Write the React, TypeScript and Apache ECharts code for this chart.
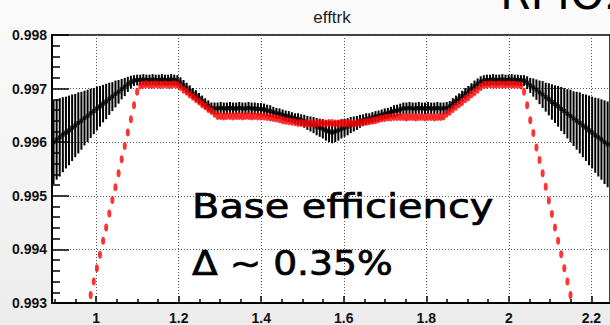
import React, { useEffect, useRef } from 'react';
import * as echarts from 'echarts';

// Bin layout of the histogram (x axis: first bin edge, bin width)
const X_START = 0.893;
const BIN_WIDTH = 0.0075;

// Axis tick values
const xTickValues = [1, 1.2, 1.4, 1.6, 1.8, 2, 2.2];
const yTickValues = [0.993, 0.994, 0.995, 0.996, 0.997, 0.998];

// Black series: bin contents
const blackValues = [
  0.99600, 0.99605, 0.99609, 0.99614, 0.99618, 0.99622, 0.99627, 0.99631, 0.99636, 0.99640,
  0.99645, 0.99649, 0.99654, 0.99658, 0.99663, 0.99667, 0.99672, 0.99676, 0.99681, 0.99685,
  0.99690, 0.99694, 0.99699, 0.99703, 0.99708, 0.99712,
  0.99715, 0.99716, 0.99716, 0.99717, 0.99716, 0.99716, 0.99717, 0.99716, 0.99716, 0.99717,
  0.99716, 0.99716, 0.99717, 0.99716, 0.99715,
  0.99711, 0.99706, 0.99701, 0.99696, 0.99691, 0.99687, 0.99682, 0.99677, 0.99672, 0.99668, 0.99664,
  0.99663, 0.99663, 0.99664, 0.99663, 0.99663, 0.99664, 0.99663, 0.99663, 0.99664, 0.99663,
  0.99663, 0.99664, 0.99663, 0.99663, 0.99662, 0.99662,
  0.99661, 0.99659, 0.99658, 0.99656, 0.99654, 0.99653, 0.99651, 0.99649, 0.99648, 0.99646,
  0.99644, 0.99643, 0.99641, 0.99639, 0.99636, 0.99634, 0.99632, 0.99629, 0.99627, 0.99625,
  0.99622, 0.99620, 0.99618,
  0.99620, 0.99622, 0.99625, 0.99627, 0.99629, 0.99632, 0.99634, 0.99636, 0.99639, 0.99641,
  0.99643, 0.99644, 0.99646, 0.99648, 0.99649, 0.99651, 0.99653, 0.99654, 0.99656, 0.99658,
  0.99659, 0.99661,
  0.99663, 0.99663, 0.99664, 0.99663, 0.99663, 0.99664, 0.99663, 0.99663, 0.99664, 0.99663,
  0.99663, 0.99664, 0.99663, 0.99663, 0.99664,
  0.99667, 0.99672, 0.99677, 0.99681, 0.99686, 0.99691, 0.99695, 0.99700, 0.99705, 0.99709, 0.99713,
  0.99715, 0.99716, 0.99716, 0.99717, 0.99716, 0.99716, 0.99717, 0.99716, 0.99716, 0.99717,
  0.99716, 0.99716, 0.99715, 0.99715,
  0.99711, 0.99706, 0.99702, 0.99698, 0.99693, 0.99689, 0.99684, 0.99680, 0.99675, 0.99671,
  0.99667, 0.99662, 0.99658, 0.99653, 0.99649, 0.99644, 0.99640, 0.99636, 0.99631, 0.99627,
  0.99622, 0.99618, 0.99613, 0.99609, 0.99605, 0.99600, 0.99596,
];

// Black series: bin errors
const blackErrors = [
  0.00078, 0.00075, 0.00073, 0.00070, 0.00067, 0.00065, 0.00062, 0.00059, 0.00057, 0.00054,
  0.00051, 0.00049, 0.00046, 0.00043, 0.00041, 0.00038, 0.00035, 0.00033, 0.00030, 0.00027,
  0.00025, 0.00022, 0.00019, 0.00017, 0.00014, 0.00012,
  0.00010, 0.00010, 0.00010, 0.00010, 0.00010, 0.00010, 0.00010, 0.00010, 0.00010, 0.00010,
  0.00010, 0.00010, 0.00010, 0.00010, 0.00010,
  0.00010, 0.00010, 0.00010, 0.00010, 0.00010, 0.00010, 0.00010, 0.00010, 0.00010, 0.00010, 0.00010,
  0.00011, 0.00011, 0.00011, 0.00011, 0.00011, 0.00011, 0.00011, 0.00011, 0.00011, 0.00011,
  0.00011, 0.00011, 0.00011, 0.00011, 0.00011, 0.00011,
  0.00011, 0.00011, 0.00011, 0.00010, 0.00010, 0.00010, 0.00010, 0.00010, 0.00010, 0.00010,
  0.00010, 0.00011, 0.00011, 0.00012, 0.00013, 0.00014, 0.00015, 0.00016, 0.00017, 0.00018,
  0.00019, 0.00020, 0.00020,
  0.00020, 0.00019, 0.00018, 0.00017, 0.00016, 0.00015, 0.00014, 0.00013, 0.00012, 0.00011,
  0.00011, 0.00010, 0.00010, 0.00010, 0.00010, 0.00010, 0.00010, 0.00010, 0.00010, 0.00011,
  0.00011, 0.00011,
  0.00011, 0.00011, 0.00011, 0.00011, 0.00011, 0.00011, 0.00011, 0.00011, 0.00011, 0.00011,
  0.00011, 0.00011, 0.00011, 0.00011, 0.00011,
  0.00010, 0.00010, 0.00010, 0.00010, 0.00010, 0.00010, 0.00010, 0.00010, 0.00010, 0.00010, 0.00010,
  0.00010, 0.00010, 0.00010, 0.00010, 0.00010, 0.00010, 0.00010, 0.00010, 0.00010, 0.00010,
  0.00010, 0.00010, 0.00010, 0.00010,
  0.00012, 0.00014, 0.00017, 0.00019, 0.00022, 0.00025, 0.00027, 0.00030, 0.00033, 0.00035,
  0.00038, 0.00041, 0.00043, 0.00046, 0.00049, 0.00051, 0.00054, 0.00057, 0.00059, 0.00062,
  0.00065, 0.00067, 0.00070, 0.00073, 0.00075, 0.00078, 0.00080,
];

// Red series: bin contents (null = below the visible range)
const redValues = [
  null, null, null, null, null, null, null, null, null, null, null, null,
  0.99315, 0.99340, 0.99365, 0.99390, 0.99416, 0.99441, 0.99467, 0.99492, 0.99516, 0.99542,
  0.99568, 0.99593, 0.99618, 0.99643, 0.99669, 0.99694,
  0.99706, 0.99707, 0.99708, 0.99707, 0.99707, 0.99708, 0.99707, 0.99707, 0.99708, 0.99707,
  0.99707, 0.99708, 0.99707,
  0.99703, 0.99698, 0.99694, 0.99689, 0.99685, 0.99680, 0.99676, 0.99671, 0.99667, 0.99662,
  0.99658, 0.99653, 0.99649,
  0.99649, 0.99648, 0.99649, 0.99649, 0.99648, 0.99649, 0.99649, 0.99648, 0.99649, 0.99649,
  0.99648, 0.99649, 0.99648, 0.99648,
  0.99648, 0.99647, 0.99646, 0.99645, 0.99644, 0.99643, 0.99641, 0.99640, 0.99639, 0.99638,
  0.99637, 0.99636,
  0.99636, 0.99635, 0.99635, 0.99636, 0.99635, 0.99635, 0.99636, 0.99635, 0.99635, 0.99636,
  0.99636, 0.99635, 0.99635, 0.99636, 0.99635, 0.99635, 0.99636, 0.99635, 0.99635, 0.99636,
  0.99637, 0.99638, 0.99639, 0.99640, 0.99641, 0.99643, 0.99644, 0.99645, 0.99646, 0.99646,
  0.99647, 0.99647,
  0.99647, 0.99647, 0.99646, 0.99647, 0.99647, 0.99646, 0.99647, 0.99647, 0.99646, 0.99647,
  0.99647, 0.99646, 0.99647, 0.99647,
  0.99648, 0.99653, 0.99657, 0.99662, 0.99666, 0.99671, 0.99675, 0.99680, 0.99684, 0.99689,
  0.99693, 0.99698, 0.99703,
  0.99707, 0.99707, 0.99708, 0.99707, 0.99707, 0.99708, 0.99707, 0.99707, 0.99708, 0.99707,
  0.99707, 0.99707, 0.99706,
  0.99694,
  0.99669, 0.99641, 0.99617, 0.99590, 0.99567, 0.99542, 0.99517, 0.99491, 0.99466, 0.99441,
  0.99416, 0.99391, 0.99365, 0.99340, 0.99315,
  null, null, null, null, null, null, null, null, null, null, null, null,
];

const binCenter = (i: number) => X_START + BIN_WIDTH * (i + 0.5);

export default function App() {
  const ref = useRef<HTMLDivElement>(null);

  useEffect(() => {
    if (!ref.current) return;
    const chart = echarts.init(ref.current, undefined, { renderer: 'svg' });

    const blackErrData = blackValues.map((v, i) => [binCenter(i), v, blackErrors[i]]);
    const blackPts = blackValues.map((v, i) => [binCenter(i), v]);
    const redPts = redValues
      .map((v, i) => (v == null ? null : [binCenter(i), v]))
      .filter((p) => p != null);

    const tickLine = { color: '#000', width: 1.5 };
    const labelFont = {
      fontFamily: 'Liberation Sans, Arial, sans-serif',
      fontWeight: 'bold' as const,
      fontSize: 14,
      color: '#111',
    };
    const gridLine = { show: true, lineStyle: { type: [1, 2], color: '#555', width: 1 } };

    chart.setOption({
      animation: false,
      grid: {
        left: 52,
        top: 35,
        bottom: 22,
        right: -1,
        show: true,
        backgroundColor: '#ffffff',
        borderColor: '#000',
        borderWidth: 1.5,
      },
      xAxis: {
        type: 'value',
        min: 0.893,
        max: 2.245,
        splitNumber: 7,
        axisLine: { lineStyle: { color: '#000', width: 2 } },
        axisTick: { inside: true, length: 7, lineStyle: tickLine, customValues: xTickValues },
        minorTick: { show: true, splitNumber: 4, length: 4, lineStyle: tickLine },
        axisLabel: {
          ...labelFont,
          margin: 8,
          customValues: xTickValues,
          formatter: (v: number) =>
            xTickValues.some((t) => Math.abs(t - v) < 1e-6) ? String(Math.round(v * 10) / 10) : '',
        },
        splitLine: gridLine,
      },
      yAxis: {
        type: 'value',
        min: 0.993,
        max: 0.998,
        interval: 0.001,
        axisLine: { show: true, lineStyle: { color: '#000', width: 2 } },
        axisTick: { inside: true, length: 17, lineStyle: tickLine },
        minorTick: { show: true, splitNumber: 5, length: 8, lineStyle: tickLine },
        axisLabel: {
          ...labelFont,
          margin: 5,
          formatter: (v: number) => {
            const t = yTickValues.find((y) => Math.abs(y - v) < 1e-7);
            return t != null ? t.toFixed(3) : '';
          },
        },
        splitLine: gridLine,
      },
      series: [
        {
          type: 'custom',
          name: 'black errors',
          clip: true,
          data: blackErrData,
          encode: { x: 0, y: 1 },
          renderItem: (params: any, api: any) => {
            const x = api.value(0);
            const y = api.value(1);
            const e = api.value(2);
            const top = api.coord([x, y + e]);
            const bot = api.coord([x, y - e]);
            return {
              type: 'line',
              shape: { x1: top[0], y1: top[1], x2: bot[0], y2: bot[1] },
              style: { stroke: '#000', lineWidth: 2 },
            };
          },
          z: 2,
        },
        {
          type: 'scatter',
          name: 'black',
          data: blackPts,
          symbol: 'rect',
          symbolSize: [4, 4],
          itemStyle: { color: '#000' },
          clip: true,
          z: 3,
        },
        {
          type: 'scatter',
          name: 'red',
          data: redPts,
          symbol: 'path://M1,0A1,1,0,1,1,-1,0A1,1,0,1,1,1,0Z',
          symbolSize: [4, 8],
          itemStyle: { color: '#ff0000' },
          clip: true,
          z: 4,
        },
      ],
      graphic: [
        {
          type: 'text',
          x: 332,
          y: 17.5,
          z: 100,
          style: {
            text: 'efftrk',
            fontFamily: 'Liberation Sans, Arial, sans-serif',
            fontSize: 17,
            fill: '#222',
            align: 'center',
            verticalAlign: 'middle',
          },
        },
        {
          type: 'text',
          x: 500,
          y: -7,
          z: 100,
          style: {
            text: 'RPIO2',
            fontFamily: 'DejaVu Sans',
            fontSize: 44,
            fill: '#000',
            align: 'left',
            verticalAlign: 'middle',
          },
        },
        {
          type: 'text',
          x: 192,
          y: 206.6,
          scaleX: 1.21,
          z: 100,
          style: {
            text: 'Base efficiency',
            fontFamily: 'DejaVu Sans',
            fontSize: 33,
            fill: '#000',
            stroke: '#000',
            lineWidth: 0.7,
            align: 'left',
            verticalAlign: 'middle',
          },
        },
        {
          type: 'text',
          x: 192,
          y: 263.6,
          scaleX: 1.14,
          z: 100,
          style: {
            text: 'Δ ~ 0.35%',
            fontFamily: 'DejaVu Sans',
            fontSize: 33,
            fill: '#000',
            stroke: '#000',
            lineWidth: 0.7,
            align: 'left',
            verticalAlign: 'middle',
          },
        },
      ],
    });

    return () => chart.dispose();
  }, []);

  return (
    <div
      ref={ref}
      style={{
        position: 'fixed',
        left: 0,
        top: 0,
        width: 610,
        height: 325,
        background: 'linear-gradient(180deg, #fbfbfb 0%, #f3f3f3 60%, #ececec 100%)',
      }}
    />
  );
}
